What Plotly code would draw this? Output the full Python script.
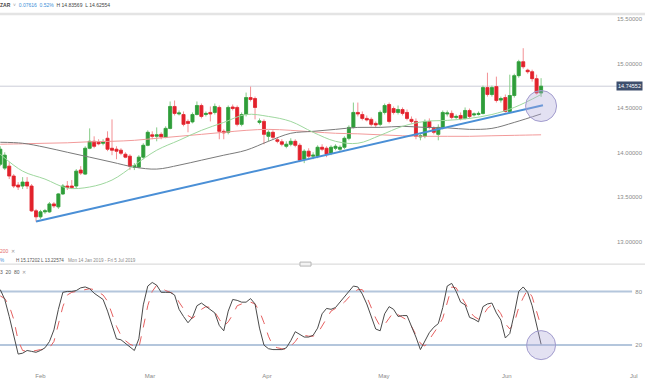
import pandas as pd
import plotly.graph_objects as go

# ---------------- data ----------------
# trading days shown (Sun-Fri sessions), 22 Jan 2019 -> 12 Jun 2019
dates = [d.strftime("%Y-%m-%d") for d in pd.date_range("2019-01-22", "2019-06-12", freq="D") if d.dayofweek != 5]

open_ = [13.870, 13.826, 13.848, 13.737, 13.636, 13.625, 13.669, 13.625, 13.346, 13.279,
         13.335, 13.335, 13.424, 13.391, 13.536, 13.625, 13.625, 13.625, 13.804, 13.759,
         14.049, 14.127, 14.116, 14.105, 14.161, 14.049, 14.038, 14.027, 13.982, 13.960,
         13.837, 13.837, 13.949, 14.082, 14.200, 14.183, 14.205, 14.172, 14.272, 14.518,
         14.434, 14.428, 14.350, 14.345, 14.428, 14.529, 14.428, 14.451, 14.451, 14.507,
         14.239, 14.228, 14.512, 14.507, 14.317, 14.428, 14.618, 14.607, 14.339, 14.350,
         14.183, 14.228, 14.144, 14.122, 14.071, 14.094, 14.127, 14.082, 13.926, 14.016,
         13.960, 13.960, 14.060, 14.049, 13.993, 14.049, 14.038, 14.060, 14.161, 14.283,
         14.451, 14.428, 14.384, 14.373, 14.328, 14.317, 14.451, 14.540, 14.495, 14.451,
         14.484, 14.451, 14.373, 14.350, 14.177, 14.183, 14.350, 14.272, 14.205, 14.283,
         14.434, 14.440, 14.395, 14.417, 14.384, 14.473, 14.423, 14.428, 14.440, 14.730,
         14.652, 14.741, 14.590, 14.618, 14.462, 14.641, 14.864, 15.020, 14.925, 14.908,
         14.830, 14.669]
high = [14.071, 14.004, 13.893, 13.759, 13.669, 13.725, 13.725, 13.647, 13.368, 13.357,
        13.368, 13.446, 13.446, 13.547, 13.647, 13.681, 13.692, 13.815, 13.848, 14.071,
        14.272, 14.183, 14.150, 14.150, 14.239, 14.373, 14.071, 14.049, 14.004, 13.982,
        13.882, 13.971, 14.105, 14.250, 14.239, 14.283, 14.228, 14.295, 14.574, 14.585,
        14.473, 14.462, 14.373, 14.451, 14.574, 14.551, 14.462, 14.518, 14.551, 14.529,
        14.261, 14.529, 14.540, 14.529, 14.451, 14.674, 14.741, 14.629, 14.384, 14.373,
        14.250, 14.250, 14.172, 14.150, 14.127, 14.161, 14.150, 14.105, 14.038, 14.049,
        14.004, 14.082, 14.094, 14.071, 14.082, 14.094, 14.082, 14.183, 14.306, 14.562,
        14.562, 14.462, 14.417, 14.395, 14.350, 14.473, 14.551, 14.562, 14.518, 14.529,
        14.507, 14.484, 14.406, 14.384, 14.217, 14.373, 14.384, 14.295, 14.317, 14.473,
        14.473, 14.473, 14.428, 14.451, 14.507, 14.495, 14.451, 14.462, 14.752, 14.897,
        14.752, 14.853, 14.629, 14.652, 14.875, 14.886, 15.042, 15.17202, 14.942, 14.931,
        14.875, 14.83569]
low = [13.848, 13.804, 13.703, 13.602, 13.580, 13.591, 13.591, 13.335, 13.22574, 13.257,
       13.312, 13.324, 13.379, 13.368, 13.524, 13.580, 13.591, 13.602, 13.748, 13.748,
       14.038, 14.049, 14.082, 14.082, 14.016, 13.971, 13.926, 13.971, 13.937, 13.804,
       13.804, 13.826, 13.926, 14.071, 14.150, 14.127, 14.150, 14.161, 14.261, 14.417,
       14.417, 14.295, 14.228, 14.328, 14.417, 14.384, 14.406, 14.350, 14.428, 14.150,
       14.150, 14.205, 14.473, 14.295, 14.295, 14.406, 14.574, 14.373, 14.317, 14.094,
       14.127, 14.150, 14.105, 14.071, 14.049, 14.071, 14.060, 13.893, 13.882, 13.937,
       13.926, 13.937, 14.016, 13.949, 13.971, 14.027, 14.016, 14.038, 14.138, 14.272,
       14.406, 14.362, 14.350, 14.295, 14.283, 14.295, 14.428, 14.328, 14.428, 14.428,
       14.417, 14.362, 14.328, 14.150, 14.138, 14.161, 14.261, 14.205, 14.138, 14.261,
       14.406, 14.373, 14.373, 14.362, 14.373, 14.384, 14.406, 14.417, 14.428, 14.629,
       14.629, 14.562, 14.562, 14.451, 14.451, 14.618, 14.841, 14.942, 14.886, 14.797,
       14.652, 14.62554]
close = [14.038, 13.971, 13.737, 13.625, 13.614, 13.669, 13.625, 13.346, 13.279, 13.335,
         13.346, 13.424, 13.402, 13.536, 13.625, 13.608, 13.608, 13.792, 13.770, 14.049,
         14.127, 14.071, 14.099, 14.122, 14.038, 14.027, 14.016, 13.993, 13.949, 13.848,
         13.854, 13.949, 14.082, 14.228, 14.183, 14.200, 14.177, 14.272, 14.518, 14.440,
         14.445, 14.317, 14.328, 14.428, 14.529, 14.406, 14.440, 14.434, 14.518, 14.239,
         14.222, 14.507, 14.495, 14.317, 14.428, 14.618, 14.596, 14.507, 14.356, 14.205,
         14.228, 14.172, 14.127, 14.094, 14.094, 14.127, 14.082, 13.915, 14.016, 13.960,
         13.971, 14.060, 14.038, 13.982, 14.060, 14.071, 14.060, 14.161, 14.283, 14.451,
         14.434, 14.384, 14.367, 14.317, 14.311, 14.451, 14.529, 14.350, 14.451, 14.484,
         14.440, 14.384, 14.350, 14.183, 14.189, 14.350, 14.283, 14.228, 14.283, 14.451,
         14.445, 14.395, 14.406, 14.384, 14.473, 14.406, 14.434, 14.440, 14.730, 14.652,
         14.730, 14.585, 14.607, 14.462, 14.641, 14.864, 15.020, 14.964, 14.908, 14.830,
         14.669, 14.74552]

last_price = 14.74552

# moving averages at sample sessions
ma_dates = ["2019-01-22", "2019-01-28", "2019-02-03", "2019-02-08", "2019-02-14", "2019-02-20",
            "2019-02-26", "2019-03-04", "2019-03-10", "2019-03-15", "2019-03-21", "2019-03-27",
            "2019-04-02", "2019-04-08", "2019-04-14", "2019-04-19", "2019-04-25", "2019-05-01",
            "2019-05-07", "2019-05-13", "2019-05-19", "2019-05-24", "2019-05-30", "2019-06-05",
            "2019-06-12"]
ma_fast = [13.982, 13.792, 13.703, 13.602, 13.614, 13.692, 13.859, 14.027, 14.138, 14.250,
           14.339, 14.428, 14.406, 14.350, 14.228, 14.127, 14.105, 14.194, 14.295, 14.350,
           14.362, 14.384, 14.428, 14.507, 14.652]
ma_mid = [14.116, 14.105, 14.060, 14.004, 13.949, 13.893, 13.837, 13.815, 13.859, 13.915,
          13.971, 14.027, 14.127, 14.217, 14.239, 14.261, 14.283, 14.283, 14.295, 14.283,
          14.278, 14.261, 14.272, 14.339, 14.434]
ma_slow = [14.094, 14.099, 14.105, 14.110, 14.122, 14.127, 14.138, 14.161, 14.183, 14.205,
           14.228, 14.250, 14.261, 14.250, 14.233, 14.217, 14.211, 14.200, 14.189, 14.183,
           14.183, 14.183, 14.189, 14.194, 14.200]

trend_dates = ["2019-01-31", "2019-06-12 10:00"]
trend_prices = [13.226, 14.532]

stoch_k = [82, 71, 52, 31, 10, 11, 14, 13, 12, 14, 17, 24, 37, 60, 79, 80, 80, 81, 84, 85,
           83, 78, 74, 71, 58, 42, 27, 26, 22, 17, 14, 27, 65, 86, 90, 87, 79, 79, 79, 76,
           60, 52, 45, 51, 64, 67, 63, 59, 56, 42, 36, 58, 71, 70, 68, 68, 72, 66, 39, 20,
           16, 15, 15, 15, 17, 25, 35, 32, 29, 29, 31, 39, 55, 61, 60, 62, 68, 74, 79, 86,
           85, 77, 66, 51, 38, 36, 55, 63, 60, 52, 53, 53, 42, 29, 15, 25, 34, 40, 44, 62,
           86, 89, 80, 68, 65, 51, 49, 46, 63, 66, 67, 56, 48, 28, 33, 55, 80, 85, 79, 64,
           42, 21]
stoch_d = [75, 72, 64, 49, 25, 14, 13, 13, 14, 15, 15, 17, 24, 44, 63, 76, 79, 80, 81, 82,
           83, 82, 79, 76, 69, 56, 41, 31, 25, 21, 19, 17, 40, 64, 80, 87, 84, 81, 79, 77,
           68, 60, 53, 50, 54, 60, 63, 62, 57, 49, 41, 46, 54, 64, 66, 67, 68, 66, 58, 45,
           30, 19, 17, 16, 15, 19, 24, 31, 31, 30, 30, 33, 41, 50, 58, 61, 64, 68, 74, 79,
           82, 82, 74, 62, 50, 41, 43, 50, 57, 54, 51, 48, 41, 32, 22, 19, 26, 33, 41, 50,
           67, 85, 84, 76, 67, 58, 52, 49, 53, 61, 65, 62, 55, 44, 38, 45, 62, 73, 82, 74,
           58, 41]

price_ticks = [13.0, 13.5, 14.0, 14.5, 15.0, 15.5]
price_tick_text = ["13.00000", "13.50000", "14.00000", "14.50000", "15.00000", "15.50000"]
stoch_ticks = [20, 80]
month_tick_dates = ["2019-02-01", "2019-03-01 12:00", "2019-04-01 16:00", "2019-05-01 20:00",
                    "2019-06-03 08:00", "2019-07-05 18:00"]
month_labels = ["Feb", "Mar", "Apr", "May", "Jun", "Jul"]

# candle bodies (open/close span) drawn over the full candles so wicks stay light
body_top = [max(o, c) for o, c in zip(open_, close)]
body_bot = [min(o, c) for o, c in zip(open_, close)]

# ---------------- figure ----------------
FONT = "Liberation Sans, Arial, sans-serif"
fig = go.Figure()

fig.add_trace(go.Scatter(x=ma_dates, y=ma_slow, mode="lines", line=dict(color="#f29a9a", width=1, shape="spline"),
                         xaxis="x", yaxis="y", hoverinfo="skip", showlegend=False))
fig.add_trace(go.Scatter(x=ma_dates, y=ma_mid, mode="lines", line=dict(color="#7a7a7a", width=1, shape="spline"),
                         xaxis="x", yaxis="y", hoverinfo="skip", showlegend=False))
fig.add_trace(go.Scatter(x=ma_dates, y=ma_fast, mode="lines", line=dict(color="#9ed79e", width=1, shape="spline"),
                         xaxis="x", yaxis="y", hoverinfo="skip", showlegend=False))
# wicks (light)
fig.add_trace(go.Candlestick(x=dates, open=open_, high=high, low=low, close=close,
                             increasing=dict(line=dict(color="#86cc88", width=1), fillcolor="#86cc88"),
                             decreasing=dict(line=dict(color="#f39094", width=1), fillcolor="#f39094"),
                             whiskerwidth=0, xaxis="x", yaxis="y", hoverinfo="skip", showlegend=False))
# bodies (solid)
fig.add_trace(go.Candlestick(x=dates, open=open_, high=body_top, low=body_bot, close=close,
                             increasing=dict(line=dict(color="#2f9d3a", width=0.6), fillcolor="#2f9d3a"),
                             decreasing=dict(line=dict(color="#e2222c", width=0.6), fillcolor="#e2222c"),
                             whiskerwidth=0, xaxis="x", yaxis="y", hoverinfo="skip", showlegend=False))
fig.add_trace(go.Scatter(x=trend_dates, y=trend_prices, mode="lines", line=dict(color="#4a8fd6", width=2),
                         xaxis="x", yaxis="y", hoverinfo="skip", showlegend=False))

fig.add_trace(go.Scatter(x=dates, y=stoch_d, mode="lines", line=dict(color="#e56060", width=1, dash="dash"),
                         xaxis="x2", yaxis="y2", hoverinfo="skip", showlegend=False))
fig.add_trace(go.Scatter(x=dates, y=stoch_k, mode="lines", line=dict(color="#4a4a4a", width=1),
                         xaxis="x2", yaxis="y2", hoverinfo="skip", showlegend=False))

xr = ["2019-01-21 22:30", "2019-07-09 06:00"]
breaks = [dict(bounds=["sat", "sun"])]
axis_font = dict(family=FONT, size=6, color="#8a8a8a")

fig.update_layout(
    width=660, height=379,
    margin=dict(l=0, r=15, t=14, b=11),
    paper_bgcolor="white", plot_bgcolor="white",
    hovermode=False, showlegend=False,
    boxgap=0.33, boxgroupgap=0,
    font=dict(family=FONT),
    xaxis=dict(type="date", range=xr, rangebreaks=breaks, domain=[0, 1], anchor="y",
               showticklabels=False, showgrid=False, zeroline=False, showline=False, ticks="",
               rangeslider=dict(visible=False)),
    xaxis2=dict(type="date", range=xr, rangebreaks=breaks, domain=[0, 1], anchor="y2", matches="x",
                tickvals=month_tick_dates, ticktext=month_labels, tickfont=axis_font,
                ticklabelstandoff=5,
                showgrid=False, zeroline=False, showline=False, ticks=""),
    yaxis=dict(domain=[0.28531, 1], range=[12.732, 15.556], side="right", anchor="x",
               tickvals=price_ticks, ticktext=price_tick_text, ticklabelposition="inside",
               tickfont=axis_font, showgrid=False, zeroline=False, showline=False, ticks=""),
    yaxis2=dict(domain=[0, 0.27684], range=[-3.33, 105.56], side="right", anchor="x2",
                tickvals=stoch_ticks, ticklabelposition="inside",
                tickfont=axis_font, showgrid=False, zeroline=False, showline=False, ticks=""),
)

shapes = [
    dict(type="line", xref="paper", yref="paper", x0=0, x1=1, y0=1.0, y1=1.0,
         line=dict(color="#e4e4e4", width=2.5), layer="below"),
    dict(type="line", xref="paper", yref="paper", x0=0, x1=1, y0=0.2895, y1=0.2895,
         line=dict(color="#d4d4d4", width=1)),
    dict(type="rect", xref="paper", yref="paper", x0=0.4651, x1=0.4822, y0=0.2839, y1=0.2952,
         fillcolor="#f3f3f3", line=dict(color="#b5b5b5", width=1)),
    dict(type="line", xref="paper", yref="y", x0=0, x1=0.9566, y0=last_price, y1=last_price,
         line=dict(color="#cbcdd8", width=1), layer="below"),
    dict(type="line", xref="paper", yref="y2", x0=0, x1=0.98, y0=80, y1=80,
         line=dict(color="#b4c6dc", width=2), layer="below"),
    dict(type="line", xref="paper", yref="y2", x0=0, x1=0.98, y0=20, y1=20,
         line=dict(color="#b4c6dc", width=2), layer="below"),
    dict(type="circle", xref="x", yref="y", xsizemode="pixel", ysizemode="pixel",
         xanchor="2019-06-12", yanchor=14.523, x0=-15.5, x1=15.5, y0=-15.5, y1=15.5,
         fillcolor="rgba(175,168,218,0.35)", line=dict(color="#a29cce", width=1)),
    dict(type="circle", xref="x2", yref="y2", xsizemode="pixel", ysizemode="pixel",
         xanchor="2019-06-12", yanchor=20, x0=-14.5, x1=14.5, y0=-14.5, y1=14.5,
         fillcolor="rgba(175,168,218,0.35)", line=dict(color="#a29cce", width=1)),
]
fig.update_layout(shapes=shapes)


def note(text, x_px, y_px, size=5, color="#555"):
    return dict(text=text, xref="paper", yref="paper", x=x_px / 645.0, y=(368 - y_px) / 354.0,
                xanchor="left", yanchor="middle", showarrow=False, borderpad=0,
                font=dict(family=FONT, size=size, color=color))


annotations = [
    note("<b>ZAR</b>  <span style='color:#9a9a9a'>˅</span>  "
         "<span style='color:#3d8fd8'>0.07616  0.52%</span>  H 14.83569  L 14.62554", -1, 5, 5, "#444"),
    note("200  <span style='color:#999'>✕</span>", -1, 252.5, 5, "#e46a6a"),
    note("%", -1, 262, 4.6, "#3d8fd8"),
    note("H 15.17202", 15, 262, 4.6, "#555"),
    note("L 13.22574", 40, 262, 4.6, "#555"),
    note("Mon 14 Jan 2019 - Fri 5 Jul 2019", 67, 262, 4.6, "#8a8a8a"),
    note("3  20  80  <span style='color:#999'>✕</span>", -1, 273, 5, "#555"),
    dict(text="14.74552", xref="paper", yref="y", x=643 / 645.0, y=last_price, xanchor="right",
         yanchor="middle", showarrow=False, bgcolor="#3e4f6d", borderpad=1,
         font=dict(family=FONT, size=5.5, color="white")),
]
fig.update_layout(annotations=annotations)

fig.write_html("out.html", config={"displayModeBar": False},
               post_script="document.body.style.margin='0';document.body.style.padding='0';")
